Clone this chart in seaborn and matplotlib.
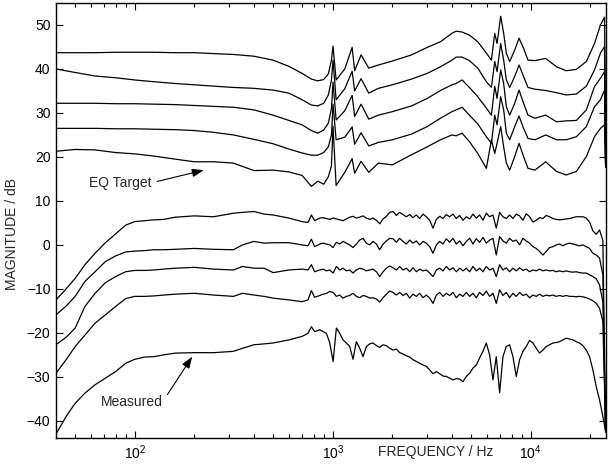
import matplotlib
matplotlib.use("Agg")
import matplotlib.pyplot as plt
import seaborn as sns

# ---- EQ target curves (upper family) ----
FREQ_EQ = [40, 50, 63, 80, 100, 125, 160, 200, 250, 315,
           400, 500, 600, 700, 780, 840, 900, 950, 985, 1003,
           1040, 1150, 1253, 1290, 1390, 1520, 1700, 2000, 2500, 3000,
           3500, 4000, 4200, 4500, 4900, 5400, 5970, 6330, 6580, 6760,
           7050, 7300, 7530, 7830, 8300, 8730, 9200, 9690, 10500, 11900,
           13500, 15100, 17000, 19100, 21000, 22500, 23600, 23900]

EQ_1 = [43.7, 43.7, 43.7, 43.8, 43.8, 43.8, 43.7, 43.7, 43.5, 43.3,
        42.9, 42.0, 40.6, 39.0, 37.7, 37.3, 37.6, 38.9, 42.0, 45.2,
        37.5, 40.0, 44.9, 39.6, 43.2, 40.2, 40.9, 41.8, 43.2, 44.9,
        46.2, 48.1, 48.6, 48.4, 47.7, 46.2, 43.6, 42.0, 48.1, 45.8,
        52.0, 48.1, 43.6, 41.7, 44.3, 47.0, 44.7, 42.0, 41.9, 42.4,
        40.5, 39.6, 39.9, 41.7, 45.8, 50.0, 51.8, 17.7]
EQ_2 = [40.0, 39.2, 38.4, 38.0, 37.5, 37.1, 36.7, 36.4, 36.1, 35.8,
        35.6, 35.2, 34.5, 33.0, 31.8, 31.6, 32.2, 34.1, 37.5, 42.0,
        33.0, 35.5, 39.5, 35.0, 37.8, 34.5, 35.6, 36.4, 37.7, 39.0,
        40.5, 42.0, 42.7, 42.7, 41.9, 40.2, 37.1, 35.8, 41.7, 39.4,
        45.8, 42.0, 37.5, 35.8, 38.3, 40.9, 38.3, 35.8, 35.4, 35.1,
        34.6, 34.1, 34.3, 36.1, 39.8, 43.6, 45.1, 17.7]
EQ_3 = [32.2, 32.2, 32.2, 32.1, 32.1, 32.0, 31.9, 31.7, 31.5, 31.3,
        30.7, 29.5, 28.3, 27.3, 26.0, 25.4, 26.1, 27.7, 31.0, 37.0,
        28.4, 30.5, 34.0, 29.2, 32.0, 28.6, 29.5, 30.3, 31.6, 33.3,
        35.1, 36.4, 36.7, 37.5, 35.8, 33.7, 31.1, 29.5, 36.1, 33.3,
        39.8, 36.7, 31.4, 29.5, 32.2, 35.2, 32.2, 29.5, 28.8, 29.5,
        28.0, 28.2, 28.3, 30.7, 36.0, 37.9, 39.4, 17.7]
EQ_4 = [26.5, 26.5, 26.5, 26.4, 26.4, 26.3, 26.2, 26.0, 25.6, 25.0,
        24.0, 23.0, 21.8, 20.9, 20.4, 20.4, 21.0, 22.3, 25.0, 32.0,
        23.9, 24.5, 26.8, 22.9, 25.5, 22.5, 23.3, 23.9, 25.2, 26.9,
        28.8, 30.3, 30.7, 31.3, 29.5, 27.5, 24.6, 23.1, 29.5, 27.3,
        33.7, 30.7, 25.4, 23.9, 26.9, 29.3, 26.5, 24.2, 23.9, 25.0,
        23.9, 23.9, 24.6, 26.9, 31.4, 33.0, 35.2, 17.7]
EQ_5 = [21.3, 21.7, 21.6, 21.0, 20.7, 20.2, 19.5, 18.9, 18.9, 18.6,
        16.9, 17.0, 16.6, 15.8, 13.3, 14.5, 13.8, 15.5, 18.0, 27.0,
        13.5, 16.5, 19.6, 16.3, 19.0, 16.5, 18.6, 18.2, 20.5, 22.3,
        23.9, 25.0, 24.8, 25.4, 23.5, 20.8, 17.4, 23.9, 20.8, 23.1,
        26.9, 22.3, 18.6, 17.0, 20.1, 23.1, 20.1, 17.4, 17.0, 18.9,
        16.7, 15.9, 16.7, 20.1, 24.6, 26.5, 27.3, 17.7]

# ---- measured / equalised curves (lower family) ----
FREQ_LOW = [40, 45, 50, 56, 63, 71, 80, 90, 100, 112, 125, 140, 160,
            200, 250, 315, 350, 400, 450, 500, 600, 700, 750, 780, 810]
FREQ_HIGH = [860, 894, 929, 966, 1004, 1043, 1085, 1127, 1172, 1218,
             1266, 1316, 1368, 1422, 1479, 1537, 1598, 1661, 1726, 1795,
             1866, 1939, 2016, 2096, 2178, 2264, 2354, 2447, 2543, 2644,
             2748, 2857, 2970, 3087, 3209, 3336, 3468, 3604, 3747, 3895,
             4049, 4209, 4375, 4548, 4727, 4914, 5108, 5310, 5520, 5738,
             5964, 6200, 6445, 6699, 6964, 7239, 7525, 7822, 8131, 8452,
             8786, 9133, 9494, 9869, 10259, 10664, 11085, 11523, 11978, 12451,
             12943, 13454, 13986, 14538, 15113, 15710, 16330, 16975, 17646, 18343,
             19067, 19820, 20603, 21417, 22263, 23143, 23900]

M1_LOW = [-12.5, -10.0, -7.6, -4.5, -1.9, 0.5, 2.5, 4.5, 5.3, 5.5, 5.7, 5.8, 6.3,
          6.6, 6.4, 7.2, 7.4, 7.6, 7.0, 6.8, 6.1, 5.3, 5.1, 6.8, 5.5]
M1_HIGH = [6.1, 6.2, 6.0, 5.8, 6.1, 5.9, 5.7, 5.5, 5.9, 6.3,
           6.5, 6.1, 6.3, 6.6, 6.1, 5.8, 6.1, 5.6, 4.8, 5.9,
           6.5, 7.4, 7.6, 6.7, 7.4, 6.9, 6.4, 6.9, 6.2, 6.8,
           6.0, 7.0, 6.4, 5.6, 3.8, 5.8, 6.5, 6.0, 6.9, 6.4,
           7.0, 6.0, 6.7, 5.6, 6.4, 5.9, 7.0, 6.1, 6.8, 5.6,
           7.2, 6.4, 6.8, 3.8, 7.4, 6.4, 6.0, 6.8, 6.0, 7.0,
           6.6, 5.6, 7.1, 6.4, 5.2, 5.6, 6.2, 6.0, 6.7, 6.4,
           6.0, 5.8, 5.7, 5.8, 5.9, 6.0, 6.2, 6.4, 6.4, 6.4,
           6.1, 5.2, 3.2, 2.4, 3.4, 1.0, -42.5]

M2_LOW = [-15.9, -13.9, -11.7, -8.3, -6.1, -3.8, -2.5, -1.6, -1.4, -1.3, -1.1, -1.1, -1.0,
          -0.8, -1.0, -1.1, 0.0, 0.8, 0.4, 0.5, 0.5, 0.0, -0.2, 1.3, -0.4]
M2_HIGH = [0.2, 0.4, 0.2, 0.0, -0.6, 0.6, 0.2, 0.8, 0.4, 0.0,
           -0.6, 0.2, 1.1, 1.5, 0.4, 0.0, 0.8, 0.2, -1.1, 0.2,
           0.9, 1.5, 1.4, 0.6, 1.5, 0.8, 0.2, 1.1, 0.4, 0.9,
           0.0, 0.8, 0.4, -0.4, -1.9, 0.0, 0.8, 0.2, 1.4, 0.6,
           1.5, 0.2, 0.9, -0.2, 0.8, 1.5, 0.2, 1.4, 0.6, 1.7,
           0.4, 1.1, 1.5, -2.3, 1.9, 0.9, 0.4, 1.5, 0.8, 1.1,
           0.0, 1.5, 0.9, 0.4, -0.4, -0.8, -1.5, -2.3, -1.5, -0.6,
           -0.4, 0.0, 0.2, -0.2, 0.2, 0.4, 0.2, 0.0, -0.2, 0.0,
           -0.4, -0.8, -1.9, -2.3, -3.0, -6.8, -42.5]

M3_LOW = [-22.7, -21.0, -18.9, -14.0, -11.0, -8.6, -7.2, -6.1, -5.8, -5.8, -5.7, -5.5, -5.3,
          -5.1, -5.5, -5.7, -4.9, -5.3, -5.3, -6.3, -5.7, -5.5, -5.7, -4.5, -6.1]
M3_HIGH = [-5.7, -5.5, -5.9, -5.7, -6.4, -4.9, -5.7, -5.3, -5.9, -5.7,
           -6.4, -5.7, -5.3, -5.5, -5.9, -5.7, -5.5, -6.1, -7.2, -6.1,
           -5.3, -4.8, -5.2, -5.7, -4.9, -5.7, -5.3, -6.1, -5.2, -6.1,
           -5.5, -5.9, -5.7, -6.4, -7.2, -5.7, -5.3, -5.9, -4.9, -5.7,
           -5.2, -6.1, -5.3, -5.9, -5.3, -6.1, -4.9, -5.9, -5.3, -6.1,
           -4.9, -5.7, -5.3, -7.2, -4.5, -5.7, -5.2, -6.1, -5.3, -5.9,
           -5.2, -5.8, -5.5, -6.1, -5.7, -5.9, -5.5, -5.9, -5.7, -5.9,
           -5.8, -6.1, -5.9, -6.1, -5.9, -6.1, -6.2, -6.1, -6.3, -6.4,
           -6.4, -6.8, -7.2, -7.7, -9.1, -12.9, -42.5]

M4_LOW = [-29.2, -26.1, -23.1, -20.5, -17.8, -15.9, -14.0, -12.2, -11.7, -11.7, -11.6, -11.4, -11.2,
          -11.0, -11.4, -11.7, -11.0, -11.4, -11.7, -12.1, -12.5, -12.9, -12.5, -10.4, -11.9]
M4_HIGH = [-11.5, -11.2, -11.0, -10.6, -10.8, -11.7, -11.4, -12.1, -11.7, -11.5,
           -11.0, -11.7, -12.0, -11.5, -11.7, -12.1, -12.0, -12.3, -13.0, -12.0,
           -11.2, -10.5, -10.8, -11.4, -10.8, -11.5, -11.0, -12.1, -11.2, -11.7,
           -11.0, -12.0, -11.4, -12.1, -13.3, -11.4, -10.8, -11.7, -11.0, -11.5,
           -10.8, -12.0, -11.2, -11.7, -10.8, -11.7, -11.0, -12.0, -10.8, -11.5,
           -10.5, -11.7, -11.0, -13.3, -10.2, -11.5, -10.8, -12.0, -11.0, -11.7,
           -10.8, -11.5, -11.2, -12.0, -11.4, -11.7, -11.2, -11.7, -11.4, -11.6,
           -11.4, -11.7, -11.5, -11.7, -11.5, -11.7, -11.7, -11.8, -11.7, -11.8,
           -12.0, -12.3, -12.7, -13.3, -14.4, -17.4, -42.5]

M5_LOW = [-43.0, -39.0, -36.0, -33.7, -31.8, -30.3, -28.8, -26.9, -26.0, -25.5, -25.4, -25.0, -24.6,
          -24.5, -24.5, -24.2, -23.5, -22.7, -22.5, -22.3, -21.6, -20.8, -20.1, -18.6, -19.7]
M5_HIGH = [-19.3, -19.7, -20.1, -22.3, -26.5, -18.9, -20.1, -21.6, -22.3, -23.1,
           -26.0, -22.0, -23.5, -25.4, -23.1, -22.5, -22.3, -22.9, -23.3, -22.7,
           -22.9, -23.5, -23.9, -23.7, -24.5, -24.8, -25.2, -25.5, -26.1, -26.5,
           -26.9, -27.3, -27.6, -28.4, -29.3, -28.8, -29.3, -29.8, -29.9, -30.3,
           -30.7, -30.4, -30.5, -31.1, -29.9, -29.2, -28.0, -27.3, -25.7, -24.2,
           -22.3, -25.0, -30.7, -25.4, -33.6, -25.4, -23.1, -22.7, -25.4, -29.9,
           -26.1, -24.2, -23.1, -21.7, -22.3, -23.5, -24.6, -23.9, -23.1, -22.7,
           -22.3, -22.2, -22.0, -21.6, -21.2, -21.4, -21.6, -22.0, -22.3, -22.9,
           -23.9, -25.4, -28.4, -32.2, -35.2, -39.0, -42.5]

X_TICKS = [100, 1000, 10000]
X_TICK_LABELS = ["$10^2$", "$10^3$", "$10^4$"]
Y_TICKS = [-40, -30, -20, -10, 0, 10, 20, 30, 40, 50]

sns.set_style("ticks")
plt.rcParams["font.family"] = ["Liberation Sans", "DejaVu Sans"]
plt.rcParams["mathtext.fontset"] = "custom"
plt.rcParams["mathtext.rm"] = "Liberation Sans"

fig = plt.figure(figsize=(6.09, 4.67), dpi=100)
ax = fig.add_axes([56 / 609, 29 / 467, 550 / 609, 435 / 467])

freq_meas = FREQ_LOW + FREQ_HIGH
for vals in [EQ_1, EQ_2, EQ_3, EQ_4, EQ_5]:
    sns.lineplot(x=FREQ_EQ, y=vals, ax=ax, color="black", linewidth=0.9,
                 estimator=None, sort=False)
for low, high in [(M1_LOW, M1_HIGH), (M2_LOW, M2_HIGH), (M3_LOW, M3_HIGH),
                  (M4_LOW, M4_HIGH), (M5_LOW, M5_HIGH)]:
    sns.lineplot(x=freq_meas, y=low + high, ax=ax, color="black", linewidth=0.9,
                 estimator=None, sort=False)

ax.set_xscale("log")
ax.set_xlim(40, 24000)
ax.set_ylim(-43.9, 55)
ax.set_xticks(X_TICKS)
ax.set_xticklabels(X_TICK_LABELS)
ax.set_yticks(Y_TICKS)
ax.tick_params(which="both", direction="in", top=True, right=True,
               labelsize=10, colors="black", width=0.8)
ax.tick_params(which="major", length=5, pad=4)
ax.tick_params(which="minor", length=3)
for sp in ax.spines.values():
    sp.set_linewidth(1.0)
    sp.set_color("black")

ax.set_xlabel("")
ax.set_ylabel("MAGNITUDE / dB", fontsize=10)
ax.yaxis.set_label_coords(-0.067, 0.47)
fig.text(436 / 609, 15 / 467, "FREQUENCY / Hz", ha="center", va="center", fontsize=10)

arrow = dict(arrowstyle="-|>,head_length=0.7,head_width=0.25", color="black",
             lw=0.8, shrinkA=2, shrinkB=0, relpos=(1.0, 0.5))
ax.annotate("EQ Target", xy=(223, 17.0), xytext=(58.6, 14.1), fontsize=10,
            ha="left", va="center", arrowprops=arrow)
ax.annotate("Measured", xy=(195, -25.4), xytext=(67.3, -35.7), fontsize=10,
            ha="left", va="center", arrowprops=arrow)

fig.savefig("out.png", dpi=100)
